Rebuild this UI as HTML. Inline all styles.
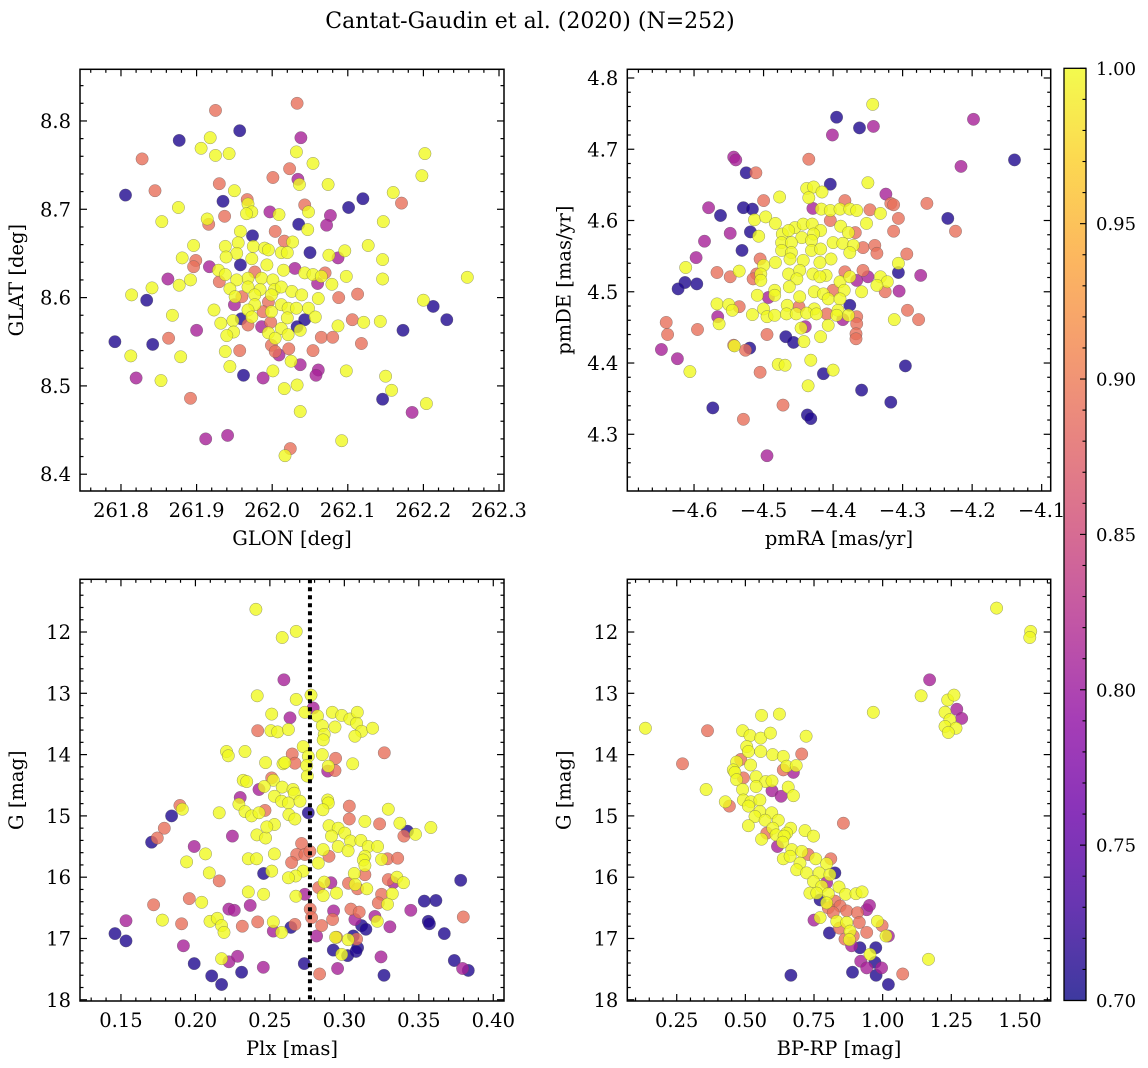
<!DOCTYPE html>
<html><head><meta charset="utf-8">
<style>
html,body{margin:0;padding:0;background:#fff;}
svg{display:block;}
text{font-family:"DejaVu Serif","Liberation Serif",serif;fill:#000;}
</style></head>
<body>
<svg id="fig" width="1148" height="1068" viewBox="0 0 1148 1068" xmlns="http://www.w3.org/2000/svg">
<text x="530" y="28" font-size="22" text-anchor="middle">Cantat-Gaudin et al. (2020) (N=252)</text>
</svg>
<script>
// ---------- Panel 1: GLON vs GLAT ----------
const glon = [261.925,262.033,261.957,261.877,262.038,261.918,261.906,261.925,261.943,262.032,261.828,262.054,262.023,262.001,262.034,262.036,261.930,262.074,262.202,262.198,261.806,261.845,261.950,261.935,261.967,261.968,261.973,261.966,262.043,262.048,262.120,262.101,262.160,262.171,261.876,261.997,262.009,261.937,261.914,261.916,262.077,262.072,262.035,262.047,261.854,262.147,261.974,262.004,261.958,262.016,262.027,261.896,261.938,261.955,261.975,261.990,261.995,262.127,262.050,262.012,262.020,261.953,261.939,261.973,262.075,262.096,262.087,262.146,261.881,261.899,261.896,261.917,261.958,261.993,262.030,262.015,261.929,261.938,261.977,262.043,262.054,262.065,262.070,261.968,261.986,262.001,261.953,261.862,261.877,261.892,261.930,262.060,262.079,262.098,262.146,262.258,261.944,261.968,261.984,262.003,262.012,262.026,261.841,261.814,261.834,261.951,261.960,261.977,261.999,262.039,262.061,262.088,262.113,262.200,262.213,262.231,261.950,261.977,261.995,262.012,262.021,262.032,262.048,261.923,261.968,261.988,261.999,262.057,261.868,261.959,261.973,262.043,262.020,261.948,261.998,262.106,262.121,262.143,261.932,261.968,261.986,262.033,262.037,262.012,262.087,262.173,261.900,261.949,261.940,261.995,262.021,262.004,262.065,262.080,262.118,261.863,261.792,261.842,261.999,262.022,262.004,262.009,261.957,261.938,262.054,261.813,261.879,261.944,262.025,262.037,262.061,262.058,262.001,262.098,261.962,261.988,261.820,261.853,262.150,262.016,262.033,262.158,262.146,261.892,262.204,262.185,262.037,261.941,261.912,262.092,262.024,262.017];
const glat = [8.812,8.820,8.789,8.778,8.781,8.781,8.769,8.761,8.763,8.765,8.757,8.752,8.746,8.736,8.734,8.728,8.729,8.728,8.763,8.738,8.716,8.721,8.721,8.709,8.711,8.706,8.697,8.695,8.705,8.697,8.712,8.702,8.719,8.707,8.702,8.697,8.694,8.692,8.689,8.683,8.693,8.682,8.683,8.677,8.686,8.686,8.670,8.675,8.675,8.664,8.663,8.659,8.658,8.662,8.658,8.656,8.654,8.659,8.651,8.651,8.651,8.650,8.646,8.644,8.648,8.653,8.645,8.643,8.645,8.642,8.635,8.635,8.637,8.637,8.633,8.631,8.631,8.626,8.629,8.628,8.626,8.624,8.628,8.622,8.622,8.620,8.620,8.621,8.614,8.620,8.618,8.616,8.615,8.624,8.621,8.623,8.610,8.612,8.609,8.609,8.612,8.607,8.611,8.603,8.597,8.601,8.601,8.603,8.603,8.603,8.599,8.600,8.604,8.597,8.590,8.575,8.592,8.592,8.595,8.592,8.588,8.588,8.588,8.586,8.586,8.584,8.584,8.578,8.580,8.576,8.578,8.575,8.577,8.574,8.572,8.575,8.572,8.573,8.571,8.569,8.567,8.567,8.563,8.565,8.568,8.563,8.563,8.561,8.557,8.560,8.558,8.554,8.555,8.555,8.548,8.554,8.550,8.547,8.546,8.542,8.539,8.535,8.540,8.539,8.540,8.534,8.533,8.522,8.528,8.524,8.518,8.512,8.517,8.517,8.512,8.509,8.509,8.506,8.511,8.497,8.501,8.495,8.485,8.486,8.480,8.470,8.471,8.444,8.440,8.438,8.429,8.421];
const prob1 = [0.89,0.89,0.71,0.71,0.81,1,1,1,1,1,0.89,1,0.89,0.89,0.81,1,0.89,1,1,1,0.71,0.89,1,0.71,0.89,1,1,1,0.89,1,0.71,0.71,1,0.89,1,0.81,1,0.89,1,0.89,0.81,0.81,0.71,1,1,1,0.71,0.89,1,0.89,1,1,1,1,1,1,1,1,0.71,1,1,1,1,1,1,1,0.81,1,1,0.89,0.89,0.81,0.71,1,0.81,1,1,1,0.89,1,1,1,0.89,1,1,1,1,0.81,1,1,0.89,0.81,1,1,1,1,1,1,1,1,1,1,1,1,0.71,1,0.89,1,1,1,1,0.89,0.89,1,0.71,0.71,0.81,1,0.89,1,1,1,1,1,1,0.89,1,1,1,0.71,1,0.71,1,1,0.89,0.89,1,1,1,0.89,0.81,0.71,1,1,1,0.71,0.81,1,1,1,1,1,0.89,0.89,0.89,0.89,0.71,0.71,0.89,0.89,0.89,0.81,0.89,1,0.89,1,1,1,1,0.81,0.81,0.81,1,1,0.71,0.81,0.81,1,1,1,1,1,0.71,0.89,1,0.81,1,0.81,0.81,1,0.89,1];
const p1xTicks = [261.8,261.9,262.0,262.1,262.2,262.3];
const p1xTickLabels = ["261.8","261.9","262.0","262.1","262.2","262.3"];
const p1yTicks = [8.4,8.5,8.6,8.7,8.8];
const p1yTickLabels = ["8.4","8.5","8.6","8.7","8.8"];

// ---------- Panel 2: pmRA vs pmDE ----------
const pmra = [-4.343,-4.395,-4.362,-4.342,-4.401,-4.198,-4.139,-4.216,-4.435,-4.543,-4.540,-4.525,-4.511,-4.404,-4.350,-4.438,-4.428,-4.416,-4.435,-4.477,-4.500,-4.324,-4.317,-4.313,-4.265,-4.383,-4.579,-4.529,-4.516,-4.562,-4.429,-4.417,-4.404,-4.390,-4.376,-4.366,-4.347,-4.332,-4.306,-4.235,-4.224,-4.513,-4.497,-4.483,-4.352,-4.404,-4.389,-4.313,-4.548,-4.519,-4.507,-4.473,-4.455,-4.443,-4.430,-4.418,-4.428,-4.464,-4.445,-4.378,-4.368,-4.585,-4.474,-4.460,-4.431,-4.400,-4.386,-4.371,-4.357,-4.340,-4.531,-4.474,-4.460,-4.431,-4.418,-4.376,-4.337,-4.294,-4.597,-4.462,-4.443,-4.403,-4.505,-4.612,-4.500,-4.483,-4.419,-4.306,-4.567,-4.535,-4.548,-4.510,-4.504,-4.464,-4.448,-4.429,-4.410,-4.383,-4.357,-4.306,-4.274,-4.515,-4.504,-4.452,-4.419,-4.390,-4.376,-4.366,-4.350,-4.332,-4.322,-4.337,-4.613,-4.596,-4.623,-4.484,-4.463,-4.427,-4.414,-4.400,-4.384,-4.359,-4.325,-4.305,-4.509,-4.493,-4.484,-4.448,-4.407,-4.390,-4.376,-4.567,-4.550,-4.535,-4.500,-4.466,-4.449,-4.427,-4.409,-4.393,-4.545,-4.516,-4.495,-4.484,-4.467,-4.453,-4.438,-4.424,-4.395,-4.386,-4.378,-4.366,-4.566,-4.564,-4.640,-4.293,-4.277,-4.312,-4.366,-4.638,-4.595,-4.407,-4.446,-4.440,-4.367,-4.367,-4.495,-4.468,-4.457,-4.442,-4.418,-4.543,-4.520,-4.526,-4.542,-4.647,-4.624,-4.606,-4.479,-4.469,-4.432,-4.505,-4.414,-4.400,-4.296,-4.436,-4.359,-4.317,-4.573,-4.472,-4.529,-4.437,-4.432,-4.495];
const pmde = [4.763,4.745,4.730,4.732,4.720,4.742,4.685,4.676,4.686,4.689,4.685,4.667,4.667,4.651,4.653,4.645,4.647,4.640,4.632,4.633,4.628,4.637,4.624,4.622,4.624,4.628,4.618,4.618,4.616,4.607,4.617,4.616,4.614,4.616,4.616,4.614,4.615,4.610,4.603,4.603,4.585,4.601,4.605,4.596,4.596,4.600,4.592,4.585,4.582,4.584,4.578,4.581,4.590,4.595,4.595,4.586,4.581,4.586,4.576,4.583,4.583,4.571,4.569,4.569,4.572,4.569,4.568,4.565,4.562,4.565,4.558,4.558,4.555,4.558,4.560,4.555,4.554,4.553,4.548,4.546,4.544,4.546,4.546,4.534,4.537,4.541,4.541,4.540,4.527,4.529,4.521,4.525,4.525,4.525,4.530,4.525,4.523,4.528,4.530,4.527,4.523,4.518,4.516,4.518,4.521,4.514,4.521,4.516,4.521,4.521,4.514,4.509,4.513,4.511,4.504,4.502,4.507,4.500,4.497,4.502,4.502,4.500,4.500,4.501,4.495,4.492,4.495,4.493,4.490,4.490,4.481,4.483,4.482,4.479,4.476,4.481,4.479,4.476,4.469,4.474,4.474,4.468,4.465,4.467,4.469,4.469,4.470,4.469,4.467,4.461,4.467,4.465,4.465,4.455,4.457,4.474,4.461,4.461,4.455,4.440,4.447,4.453,4.449,4.451,4.441,4.434,4.440,4.437,4.429,4.430,4.437,4.425,4.421,4.418,4.424,4.419,4.406,4.388,4.398,4.397,4.404,4.387,4.385,4.390,4.396,4.368,4.362,4.345,4.337,4.341,4.321,4.327,4.322,4.270];
const prob2 = [1,0.71,0.71,0.81,0.81,0.81,0.71,0.81,0.89,0.81,0.81,0.71,0.89,0.71,1,1,1,1,1,1,0.89,0.81,0.89,0.89,0.89,0.89,0.81,0.71,0.71,0.71,0.81,1,1,1,1,1,0.89,1,0.89,0.71,0.89,1,1,1,1,0.89,1,0.89,0.81,0.71,1,1,1,1,1,1,1,1,1,1,0.89,0.81,1,1,1,1,1,1,0.89,0.89,0.71,1,1,1,1,1,0.89,0.89,0.81,1,1,1,0.89,1,1,1,1,1,0.89,1,0.89,0.89,1,1,1,1,1,0.89,0.89,0.71,0.81,0.89,1,1,1,1,1,0.81,0.81,1,1,1,0.71,0.71,0.71,1,1,1,1,0.89,1,1,0.89,0.81,1,0.81,1,1,1,1,0.71,1,1,0.89,1,1,0.89,1,0.89,1,1,1,1,1,1,1,1,1,1,0.81,1,0.89,0.81,1,0.89,0.89,0.89,1,0.89,0.89,0.89,1,1,0.81,0.89,0.89,0.89,0.71,0.71,1,1,0.89,0.71,0.89,1,0.81,0.81,1,1,1,1,0.89,0.71,1,0.71,1,0.71,0.71,0.71,0.89,0.89,0.71,0.71,0.81];
const p2xTicks = [-4.6,-4.5,-4.4,-4.3,-4.2,-4.1];
const p2xTickLabels = ["\u22124.6","\u22124.5","\u22124.4","\u22124.3","\u22124.2","\u22124.1"];
const p2yTicks = [4.3,4.4,4.5,4.6,4.7,4.8];
const p2yTickLabels = ["4.3","4.4","4.5","4.6","4.7","4.8"];

// ---------- Panel 3: Plx vs G ----------
const plx = [0.2406,0.2583,0.2677,0.2594,0.2415,0.2677,0.2776,0.2791,0.2735,0.2635,0.2512,0.2820,0.2919,0.2982,0.3037,0.3087,0.3082,0.2852,0.2937,0.3116,0.3190,0.3071,0.2865,0.2858,0.2418,0.2507,0.2552,0.2624,0.2724,0.3268,0.2209,0.2221,0.2333,0.2758,0.2852,0.2650,0.2471,0.2588,0.2668,0.2601,0.2747,0.2941,0.2892,0.2937,0.2888,0.3056,0.2751,0.2321,0.2344,0.2512,0.2523,0.2462,0.2427,0.2583,0.2655,0.2664,0.2530,0.2301,0.2579,0.2624,0.2702,0.2888,0.2892,0.2758,0.2856,0.3033,0.3295,0.2292,0.2333,0.2377,0.2467,0.2427,0.2628,0.2668,0.2160,0.1896,0.1912,0.1840,0.1791,0.1744,0.1706,0.2248,0.2413,0.2471,0.2530,0.2479,0.3033,0.3138,0.3237,0.3373,0.3424,0.3400,0.3478,0.3581,0.2897,0.2959,0.2914,0.3003,0.3041,0.3111,0.3160,0.3223,0.2959,0.2858,0.3025,0.2713,0.2680,0.2735,0.2769,0.2897,0.3138,0.3127,0.3250,0.3290,0.3358,0.1992,0.2068,0.1941,0.2355,0.2411,0.2530,0.2646,0.2825,0.3138,0.3138,0.3067,0.2724,0.2673,0.2624,0.2512,0.2458,0.2093,0.2160,0.3295,0.3353,0.3329,0.3397,0.3781,0.2865,0.2910,0.2827,0.3028,0.3073,0.3089,0.3151,0.2858,0.2947,0.3250,0.3322,0.3290,0.3228,0.2675,0.2735,0.2355,0.2458,0.1959,0.2042,0.1719,0.2225,0.2261,0.2368,0.2771,0.2928,0.3044,0.3100,0.3205,0.3446,0.3537,0.3615,0.3799,0.1534,0.1778,0.1907,0.2098,0.2147,0.2176,0.2192,0.2315,0.2418,0.2523,0.2579,0.2523,0.2641,0.2668,0.2780,0.2847,0.2921,0.3071,0.3116,0.3145,0.3221,0.3306,0.3564,0.3571,0.3671,0.1460,0.1534,0.2814,0.2948,0.2941,0.3026,0.3060,0.3082,0.1919,0.2926,0.2982,0.3022,0.3089,0.3078,0.1992,0.2176,0.2225,0.2283,0.2109,0.2176,0.2310,0.2456,0.2731,0.2834,0.2955,0.3246,0.3266,0.3738,0.3794,0.3832];
const gmag3 = [11.63,12.09,11.99,12.78,13.04,13.10,13.03,13.24,13.31,13.40,13.34,13.37,13.31,13.36,13.42,13.31,13.49,13.53,13.55,13.62,13.57,13.70,13.67,13.76,13.61,13.61,13.63,13.59,13.87,13.97,13.95,14.02,13.95,14.03,14.00,13.99,14.13,14.15,14.14,14.13,14.18,14.06,14.19,14.26,14.27,14.15,14.35,14.42,14.44,14.38,14.42,14.52,14.57,14.53,14.57,14.63,14.68,14.70,14.76,14.79,14.76,14.74,14.79,14.95,14.90,14.84,14.89,14.81,14.93,15.00,14.91,14.95,14.98,15.05,14.95,14.83,14.89,15.00,15.20,15.36,15.43,15.33,15.31,15.36,15.14,15.18,15.05,15.09,15.13,15.12,15.25,15.33,15.30,15.19,15.16,15.20,15.33,15.28,15.41,15.40,15.50,15.50,15.50,15.55,15.57,15.45,15.63,15.63,15.58,15.66,15.66,15.72,15.71,15.70,15.69,15.50,15.62,15.75,15.70,15.70,15.62,15.76,15.77,15.81,15.96,15.94,15.90,15.98,16.01,15.90,15.94,15.93,16.06,16.04,16.00,16.09,16.09,16.05,16.08,16.09,16.17,16.10,16.12,16.19,16.19,16.30,16.26,16.28,16.27,16.44,16.42,16.31,16.28,16.24,16.28,16.35,16.41,16.45,16.52,16.54,16.46,16.52,16.55,16.52,16.57,16.64,16.54,16.39,16.38,16.65,16.71,16.70,16.76,16.72,16.67,16.79,16.90,16.80,16.73,16.73,16.90,16.88,16.82,16.77,16.66,16.79,16.69,16.69,16.79,16.85,16.72,16.81,16.72,16.76,16.92,16.92,17.04,16.96,16.98,16.98,17.02,16.96,17.01,17.12,17.19,17.26,17.28,17.15,17.21,17.41,17.33,17.38,17.29,17.61,17.75,17.55,17.47,17.41,17.58,17.49,17.30,17.60,17.36,17.49,17.52];
const prob3 = [1,1,1,0.81,1,1,1,0.81,1,0.81,1,1,1,1,1,1,1,1,1,1,1,1,1,1,0.89,1,1,1,1,0.89,1,1,1,1,1,0.89,1,1,0.89,1,1,0.89,1,0.89,0.81,1,1,1,1,0.89,1,1,0.81,1,1,1,1,0.81,1,1,1,1,1,0.71,1,0.89,1,1,1,1,0.89,1,1,1,1,0.89,1,0.71,0.89,0.89,0.71,0.81,1,1,1,1,0.89,1,0.89,1,0.71,0.89,1,1,1,1,1,1,1,1,1,1,1,1,1,0.89,0.89,0.89,0.89,0.89,1,1,1,0.89,0.89,0.81,1,1,1,1,1,0.89,1,1,0.89,1,1,1,1,1,0.71,1,0.89,0.89,1,0.81,1,0.71,1,0.81,0.89,0.89,1,0.89,1,1,1,0.89,1,1,0.89,1,0.81,1,1,0.89,1,0.89,0.81,0.81,0.81,0.89,0.81,0.89,0.89,0.81,0.81,0.71,0.71,0.89,0.81,1,0.89,1,1,1,1,0.89,0.89,1,1,0.81,0.71,0.89,0.89,0.89,0.89,0.81,0.71,0.71,1,0.81,0.71,0.71,0.71,0.71,0.71,0.81,0.89,1,1,0.71,0.89,0.81,0.71,1,0.71,0.71,0.71,0.71,1,0.81,0.81,0.71,0.71,0.71,0.81,0.71,0.89,0.81,0.81,0.71,0.71,0.81,0.71];
const p3xTicks = [0.15,0.20,0.25,0.30,0.35,0.40];
const p3xTickLabels = ["0.15","0.20","0.25","0.30","0.35","0.40"];
const p3yTicks = [12,13,14,15,16,17,18];
const p3yTickLabels = ["12","13","14","15","16","17","18"];
const plxMedian = [0.2769];

// ---------- Panel 4: BP-RP vs G ----------
const bprp = [1.415,1.539,1.536,1.171,1.140,1.237,1.260,1.270,1.288,1.227,1.245,1.227,1.267,1.239,0.966,0.136,0.362,0.559,0.624,0.490,0.517,0.556,0.591,0.721,0.505,0.511,0.556,0.599,0.705,0.271,0.468,0.483,0.519,0.638,0.650,0.685,0.638,0.675,0.456,0.462,0.493,0.468,0.539,0.574,0.597,0.539,0.490,0.656,0.597,0.630,0.675,0.357,0.427,0.442,0.493,0.520,0.553,0.511,0.553,0.596,0.535,0.572,0.620,0.857,0.511,0.600,0.665,0.650,0.717,0.748,0.578,0.612,0.641,0.559,0.617,0.636,0.669,0.705,0.638,0.663,0.699,0.729,0.756,0.811,0.796,0.687,0.723,0.769,0.826,0.808,0.748,0.796,0.778,0.841,0.735,0.772,0.760,0.802,0.865,0.903,0.925,0.796,0.826,0.845,0.802,0.869,0.908,0.942,0.952,0.820,0.750,0.772,0.833,0.869,0.915,0.981,0.998,0.843,0.881,0.942,0.893,0.806,1.021,1.012,0.863,0.887,0.879,0.917,0.975,0.954,0.920,0.972,0.942,0.996,0.976,1.021,0.890,0.666,1.073,1.167];
const gmag4 = [11.61,11.99,12.09,12.78,13.04,13.11,13.03,13.26,13.41,13.31,13.43,13.54,13.57,13.64,13.31,13.57,13.61,13.36,13.34,13.61,13.69,13.73,13.65,13.70,13.87,13.95,13.95,14.00,13.99,14.15,14.12,14.08,14.17,14.03,14.19,14.18,14.25,14.29,14.25,14.29,14.38,14.41,14.36,14.44,14.43,14.52,14.57,14.53,14.59,14.68,14.67,14.57,14.77,14.84,14.74,14.77,14.74,14.84,14.93,14.95,15.01,15.07,15.07,15.12,15.16,15.20,15.20,15.28,15.24,15.33,15.28,15.31,15.33,15.38,15.50,15.43,15.55,15.58,15.70,15.66,15.77,15.63,15.70,15.70,15.78,15.88,15.93,15.93,15.93,15.96,16.07,16.09,16.15,16.16,16.26,16.37,16.26,16.27,16.28,16.27,16.24,16.42,16.39,16.47,16.50,16.55,16.58,16.53,16.46,16.58,16.70,16.66,16.72,16.74,16.74,16.72,16.79,16.83,16.88,16.90,16.96,16.91,16.96,16.96,17.01,17.12,17.02,17.15,17.15,17.26,17.37,17.39,17.48,17.48,17.60,17.75,17.55,17.60,17.58,17.34];
const prob4 = [1,1,1,0.81,1,1,1,0.81,0.81,1,1,1,1,1,1,1,0.89,1,1,1,1,1,1,1,1,1,1,1,0.89,0.89,1,0.89,1,1,1,1,0.89,0.81,1,1,0.89,1,1,1,1,1,1,1,0.81,0.81,1,1,1,0.89,1,1,1,1,1,1,1,1,1,0.89,1,1,1,1,1,1,0.89,1,1,1,0.81,1,1,1,1,1,1,0.89,1,0.89,1,1,1,1,0.71,1,1,0.81,1,1,1,0.71,1,1,1,1,1,1,0.89,0.89,0.89,0.89,0.89,0.81,0.81,0.89,0.81,1,1,1,0.89,1,0.89,0.89,1,0.89,0.89,0.71,0.81,1,0.89,0.81,1,0.71,0.71,1,0.81,0.71,0.81,0.81,0.71,0.71,0.71,0.71,0.89,1];
const p4xTicks = [0.25,0.50,0.75,1.00,1.25,1.50];
const p4xTickLabels = ["0.25","0.50","0.75","1.00","1.25","1.50"];
const p4yTicks = p3yTicks;
const p4yTickLabels = p3yTickLabels;

// ---------- Colorbar ----------
const cbTicks = [0.70,0.75,0.80,0.85,0.90,0.95,1.00];
const cbTickLabels = ["0.70","0.75","0.80","0.85","0.90","0.95","1.00"];

const NS = "http://www.w3.org/2000/svg";
const svg = document.getElementById('fig');
const PLASMA = ["#0d0887","#41049d","#6a00a8","#8f0da4","#b12a90","#cc4778","#e16462","#f2844b","#fca636","#fcce25","#f0f921"];
function hex(c){return [parseInt(c.slice(1,3),16),parseInt(c.slice(3,5),16),parseInt(c.slice(5,7),16)];}
function plasma(t){
  t=Math.max(0,Math.min(1,t));const f=t*10;const i=Math.min(9,Math.floor(f));const r=f-i;
  const a=hex(PLASMA[i]),b=hex(PLASMA[i+1]);
  return 'rgb('+a.map((v,k)=>Math.round(v+(b[k]-v)*r)).join(',')+')';
}
const VMIN=0.7,VMAX=1.0;
const TICKFS=19.5, TITLEFS=19.5;
function el(tag,attrs,parent){const e=document.createElementNS(NS,tag);for(const k in attrs)e.setAttribute(k,attrs[k]);(parent||svg).appendChild(e);return e;}

function makePanel(cfg){
  const g=el('g',{});
  
  
  const sx=v=>cfg.px0+(v-cfg.xmin)/(cfg.xmax-cfg.xmin)*(cfg.px1-cfg.px0);
  const sy=cfg.invert?(v=>cfg.py0+(v-cfg.ymin)/(cfg.ymax-cfg.ymin)*(cfg.py1-cfg.py0))
                     :(v=>cfg.py1-(v-cfg.ymin)/(cfg.ymax-cfg.ymin)*(cfg.py1-cfg.py0));
  const idx=cfg.xs.map((_,i)=>i).sort((a,b)=>cfg.ps[a]-cfg.ps[b]);
  const pg=el('g',{},g);
  
  
  idx.forEach(i=>{
    const c=el('circle',{cx:sx(cfg.xs[i]).toFixed(1),cy:sy(cfg.ys[i]).toFixed(1),r:6.2,fill:plasma((cfg.ps[i]-VMIN)/(VMAX-VMIN)),'fill-opacity':0.8,stroke:'#555','stroke-width':0.5,'stroke-opacity':0.6},pg);
    
    
  });
  if(cfg.vline){
    cfg.vline.forEach(v=>{
      const l=el('line',{x1:sx(v),x2:sx(v),y1:cfg.py0,y2:cfg.py1,stroke:'#000','stroke-width':4,'stroke-dasharray':'4 4'},g);
      
      
    });
  }
  const fr=el('rect',{x:cfg.px0,y:cfg.py0,width:cfg.px1-cfg.px0,height:cfg.py1-cfg.py0,fill:'none',stroke:'#000','stroke-width':1.5},g);
  
  
  const tg=el('g',{stroke:'#000','stroke-width':1.2},g);
  const eps=1e-9;
  const lo=Math.ceil(cfg.xmin/cfg.xminor-eps), hi=Math.floor(cfg.xmax/cfg.xminor+eps);
  for(let k=lo;k<=hi;k++){const v=k*cfg.xminor;const x=sx(v);const maj=cfg.xt.some(t=>Math.abs(t-v)<cfg.xminor/10);const L=maj?7:3.5;
    el('line',{x1:x,x2:x,y1:cfg.py1,y2:cfg.py1-L},tg);el('line',{x1:x,x2:x,y1:cfg.py0,y2:cfg.py0+L},tg);}
  const lo2=Math.ceil(cfg.ymin/cfg.yminor-eps), hi2=Math.floor(cfg.ymax/cfg.yminor+eps);
  for(let k=lo2;k<=hi2;k++){const v=k*cfg.yminor;const y=sy(v);const maj=cfg.yt.some(t=>Math.abs(t-v)<cfg.yminor/10);const L=maj?7:3.5;
    el('line',{x1:cfg.px0,x2:cfg.px0+L,y1:y,y2:y},tg);el('line',{x1:cfg.px1,x2:cfg.px1-L,y1:y,y2:y},tg);}
  cfg.xt.forEach((v,i)=>{const t=el('text',{x:sx(v),y:cfg.py1+26,'font-size':TICKFS,'text-anchor':'middle'},g);t.textContent=cfg.xl[i];
    });
  cfg.yt.forEach((v,i)=>{const t=el('text',{x:cfg.px0-9,y:sy(v)+7,'font-size':TICKFS,'text-anchor':'end'},g);t.textContent=cfg.yl[i];
    });
  const xt=el('text',{x:(cfg.px0+cfg.px1)/2,y:cfg.py1+54,'font-size':TITLEFS,'text-anchor':'middle'},g);xt.textContent=cfg.xtitle;
  
  const yx=cfg.px0-57, yc=(cfg.py0+cfg.py1)/2;
  const yt=el('text',{x:yx,y:yc,'font-size':TITLEFS,'text-anchor':'middle',transform:`rotate(-90 ${yx} ${yc})`},g);yt.textContent=cfg.ytitle;
  
}

makePanel({name:'glon-glat-panel',px0:80,px1:504,py0:69.3,py1:491,xmin:261.7458,xmax:262.3066,ymin:8.381,ymax:8.8585,xs:glon,ys:glat,ps:prob1,xt:p1xTicks,xl:p1xTickLabels,yt:p1yTicks,yl:p1yTickLabels,xminor:0.02,yminor:0.02,xtitle:'GLON [deg]',ytitle:'GLAT [deg]'});
makePanel({name:'proper-motion-panel',px0:627.3,px1:1050.7,py0:69.3,py1:491,xmin:-4.696,xmax:-4.087,ymin:4.2204,ymax:4.8122,xs:pmra,ys:pmde,ps:prob2,xt:p2xTicks,xl:p2xTickLabels,yt:p2yTicks,yl:p2yTickLabels,xminor:0.02,yminor:0.02,xtitle:'pmRA [mas/yr]',ytitle:'pmDE [mas/yr]'});
makePanel({name:'parallax-magnitude-panel',px0:80,px1:504,py0:579.3,py1:1001,xmin:0.1225,xmax:0.4072,ymin:11.14,ymax:18.02,invert:true,xs:plx,ys:gmag3,ps:prob3,xt:p3xTicks,xl:p3xTickLabels,yt:p3yTicks,yl:p3yTickLabels,xminor:0.01,yminor:0.2,xtitle:'Plx [mas]',ytitle:'G [mag]',vline:plxMedian});
makePanel({name:'color-magnitude-panel',px0:627.3,px1:1050.7,py0:579.3,py1:1001,xmin:0.070,xmax:1.612,ymin:11.14,ymax:18.02,invert:true,xs:bprp,ys:gmag4,ps:prob4,xt:p4xTicks,xl:p4xTickLabels,yt:p4yTicks,yl:p4yTickLabels,xminor:0.05,yminor:0.2,xtitle:'BP-RP [mag]',ytitle:'G [mag]'});

(function(){
  const x0=1064,x1=1086,y0=68.3,y1=1000.5;
  const g=el('g',{});
  
  
  const defs=el('defs',{},g);
  const lg=el('linearGradient',{id:'cbg',x1:0,y1:1,x2:0,y2:0},defs);
  for(let i=0;i<=20;i++){el('stop',{offset:(i/20),'stop-color':plasma(i/20),'stop-opacity':0.8},lg);}
  const r=el('rect',{x:x0,y:y0,width:x1-x0,height:y1-y0,fill:'url(#cbg)',stroke:'#000','stroke-width':1.3},g);
  
  
  const sy=v=>y1-(v-VMIN)/(VMAX-VMIN)*(y1-y0);
  for(let k=70;k<=100;k++){const v=k/100;const maj=k%5===0;const y=sy(v);
    el('line',{x1:x1,x2:x1-(maj?6:3.5),y1:y,y2:y,stroke:'#000','stroke-width':1.1},g);}
  cbTicks.forEach((v,i)=>{const t=el('text',{x:x1+10,y:sy(v)+6.5,'font-size':18},g);t.textContent=cbTickLabels[i];
    });
})();
</script>
</body></html>
